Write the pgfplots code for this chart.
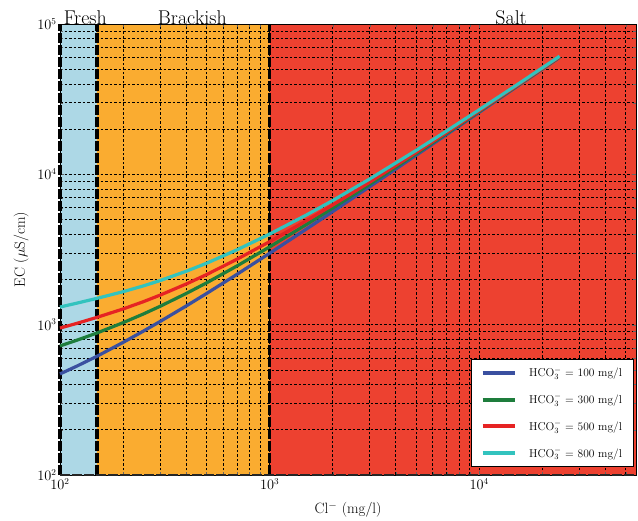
\documentclass[border=0pt]{standalone}
\usepackage{pgfplots}
\pgfplotsset{compat=1.18}
\definecolor{cfresh}{RGB}{173,216,230}
\definecolor{cbrack}{RGB}{250,172,48}
\definecolor{csalt}{RGB}{237,65,48}
\definecolor{lblue}{RGB}{58,80,160}
\definecolor{lgreen}{RGB}{30,125,60}
\definecolor{lred}{RGB}{230,35,35}
\definecolor{lteal}{RGB}{50,195,190}
\begin{document}
\begin{tikzpicture}
\begin{axis}[
  set layers,
  at={(0,0)}, anchor=south west,
  scale only axis, width=576bp, height=451bp,
  xmode=log, ymode=log,
  xmin=100, xmax=56000, ymin=100, ymax=100000,
  clip=false,
  grid=both,
  major grid style={black, line width=0.6bp, dash pattern=on 2.5bp off 2bp},
  minor grid style={black, line width=0.6bp, dash pattern=on 2.5bp off 2bp},
  axis line style={black, line width=0.8bp},
  tick style={black!60},
  tick label style={font=\fontsize{13.5}{15}\selectfont},
  xlabel={Cl$^{-}$ (mg/l)},
  ylabel={EC ($\mu$S/cm)},
  label style={font=\fontsize{15}{17}\selectfont},
  xlabel style={yshift=-6bp},
  ylabel style={yshift=2bp},
  legend style={at={(axis description cs:0.995,0.018)}, anchor=south east,
    draw=black, fill=white, font=\fontsize{11.5}{13}\selectfont,
    inner xsep=9bp, inner ysep=6bp, row sep=11.5bp},
  legend cell align=left,
  legend image code/.code={\draw[#1, line width=4bp] (0bp,0bp) -- (32bp,0bp); \path (43bp,0bp);},
]
% regions
\addplot[on layer=axis background, fill=cfresh, draw=none, forget plot] coordinates {(100,100) (100,100000) (150,100000) (150,100) (100,100)};
\addplot[on layer=axis background, fill=cbrack, draw=none, forget plot] coordinates {(150,100) (150,100000) (1000,100000) (1000,100) (150,100)};
\addplot[on layer=axis background, fill=csalt, draw=none, forget plot] coordinates {(1000,100) (1000,100000) (56000,100000) (56000,100) (1000,100)};
% boundaries
\addplot[black, line width=3.2bp, dash pattern=on 10bp off 2bp, forget plot] coordinates {(100,100) (100,100000)};
\addplot[black, line width=3.2bp, dash pattern=on 10bp off 2bp, forget plot] coordinates {(150,100) (150,100000)};
\addplot[black, line width=3.2bp, dash pattern=on 10bp off 2bp, forget plot] coordinates {(1000,100) (1000,100000)};
\addplot[black!85, line width=2.5bp, dash pattern=on 10bp off 2bp, forget plot] coordinates {(100,100) (56000,100)};
% curves
\addplot[lblue, line width=3.2bp] coordinates {
(100,470) (120,529) (150,616) (200,762) (250,906) (300,1049) (400,1331) (500,1611) (700,2165) (1000,2985) (1500,4330) (2000,5653) (3000,8266) (5000,13387) (7000,18417) (10000,25847) (15000,38030) (20000,50020) (24200,60006)};
\addlegendentry{HCO$_3^-$ = 100 mg/l}
\addplot[lgreen, line width=3.2bp] coordinates {
(100,722) (120,787) (150,880) (200,1031) (250,1178) (300,1324) (400,1612) (500,1896) (700,2461) (1000,3291) (1500,4642) (2000,5965) (3000,8578) (5000,13699) (7000,18729) (10000,26159) (15000,38342) (20000,50332) (24200,60318)};
\addlegendentry{HCO$_3^-$ = 300 mg/l}
\addplot[lred, line width=3.2bp] coordinates {
(100,949) (120,1019) (150,1118) (200,1272) (250,1422) (300,1571) (400,1864) (500,2153) (700,2726) (1000,3566) (1500,4923) (2000,6246) (3000,8859) (5000,13980) (7000,19010) (10000,26440) (15000,38623) (20000,50613) (24200,60599)};
\addlegendentry{HCO$_3^-$ = 500 mg/l}
\addplot[lteal, line width=3.2bp] coordinates {
(100,1310) (120,1389) (150,1496) (200,1657) (250,1811) (300,1964) (400,2266) (500,2561) (700,3150) (1000,4005) (1500,5370) (2000,6693) (3000,9306) (5000,14427) (7000,19457) (10000,26887) (15000,39070) (20000,51060) (24200,61046)};
\addlegendentry{HCO$_3^-$ = 800 mg/l}
% region labels
\node[anchor=base, font=\fontsize{20}{22}\selectfont, inner sep=0pt] at (axis cs:132,100000) {Fresh};
\node[anchor=base, font=\fontsize{20}{22}\selectfont, inner sep=0pt] at (axis cs:428,100000) {Brackish};
\node[anchor=base, font=\fontsize{20}{22}\selectfont, inner sep=0pt] at (axis cs:14200,100000) {Salt};
\end{axis}
\pgfresetboundingbox
\path[use as bounding box] (-60bp,-46bp) rectangle (578bp,475bp);
\end{tikzpicture}
\end{document}
